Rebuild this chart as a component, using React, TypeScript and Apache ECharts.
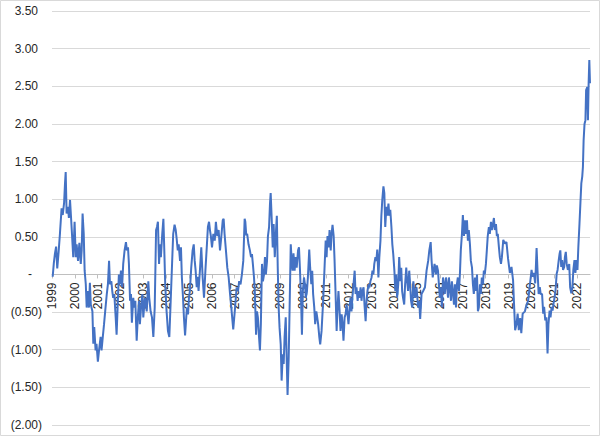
import React, { useEffect, useRef } from "react";
import * as echarts from "echarts";

// Sample dates (decimal years) and index values
const dates: number[] = [
  1999.03, 1999.08, 1999.13, 1999.18, 1999.23, 1999.29, 1999.35, 1999.42, 1999.47, 1999.53, 1999.57, 1999.60, 1999.64, 1999.70, 1999.74, 1999.79, 1999.83, 1999.88, 1999.93, 1999.99,
  2000.04, 2000.08, 2000.14, 2000.20, 2000.26, 2000.30, 2000.34, 2000.39, 2000.43, 2000.48, 2000.52, 2000.56, 2000.62, 2000.66, 2000.70, 2000.77, 2000.81, 2000.85, 2000.91, 2000.95,
  2001.01, 2001.06, 2001.13, 2001.17, 2001.21, 2001.28, 2001.33, 2001.40, 2001.45, 2001.50, 2001.54, 2001.60, 2001.64, 2001.68, 2001.73, 2001.79, 2001.83, 2001.89, 2001.93, 2001.98,
  2002.02, 2002.07, 2002.12, 2002.18, 2002.24, 2002.28, 2002.33, 2002.37, 2002.42, 2002.46, 2002.50, 2002.56, 2002.60, 2002.65, 2002.71, 2002.75, 2002.81, 2002.85, 2002.91, 2002.96,
  2003.00, 2003.07, 2003.15, 2003.22, 2003.26, 2003.32, 2003.38, 2003.44, 2003.50, 2003.56, 2003.60, 2003.64, 2003.69, 2003.73, 2003.77, 2003.83, 2003.88, 2003.92, 2003.96,
  2004.02, 2004.08, 2004.14, 2004.20, 2004.26, 2004.31, 2004.37, 2004.42, 2004.46, 2004.51, 2004.55, 2004.61, 2004.65, 2004.69, 2004.74, 2004.78, 2004.83, 2004.87, 2004.91, 2004.96,
  2005.00, 2005.04, 2005.10, 2005.16, 2005.21, 2005.25, 2005.29, 2005.34, 2005.38, 2005.42, 2005.48, 2005.54, 2005.60, 2005.66, 2005.72, 2005.78, 2005.83, 2005.88, 2005.92, 2005.96,
  2006.01, 2006.07, 2006.13, 2006.18, 2006.24, 2006.30, 2006.36, 2006.42, 2006.48, 2006.52, 2006.56, 2006.62, 2006.68, 2006.74, 2006.80, 2006.87, 2006.94,
  2007.02, 2007.09, 2007.15, 2007.20, 2007.26, 2007.32, 2007.38, 2007.44, 2007.47, 2007.51, 2007.55, 2007.61, 2007.67, 2007.72, 2007.76, 2007.80, 2007.85, 2007.89, 2007.94, 2007.98,
  2008.02, 2008.07, 2008.11, 2008.15, 2008.20, 2008.24, 2008.29, 2008.33, 2008.37, 2008.42, 2008.46, 2008.51, 2008.55, 2008.58, 2008.62, 2008.67, 2008.71, 2008.76, 2008.80, 2008.85, 2008.89, 2008.93, 2008.97,
  2009.02, 2009.06, 2009.11, 2009.15, 2009.19, 2009.24, 2009.28, 2009.32, 2009.37, 2009.41, 2009.46, 2009.50, 2009.54, 2009.58, 2009.63, 2009.67, 2009.72, 2009.78, 2009.82, 2009.86, 2009.91, 2009.95, 2009.99,
  2010.04, 2010.08, 2010.12, 2010.17, 2010.21, 2010.27, 2010.31, 2010.36, 2010.40, 2010.44, 2010.49, 2010.53, 2010.58, 2010.62, 2010.66, 2010.71, 2010.75, 2010.81, 2010.88, 2010.94, 2010.99,
  2011.03, 2011.07, 2011.12, 2011.16, 2011.21, 2011.25, 2011.29, 2011.34, 2011.38, 2011.42, 2011.47, 2011.51, 2011.55, 2011.60, 2011.64, 2011.69, 2011.73, 2011.77, 2011.82, 2011.86, 2011.91, 2011.95, 2011.99,
  2012.04, 2012.08, 2012.12, 2012.17, 2012.21, 2012.26, 2012.30, 2012.34, 2012.39, 2012.43, 2012.47, 2012.52, 2012.56, 2012.60, 2012.65, 2012.69, 2012.74, 2012.78, 2012.82, 2012.87, 2012.91, 2012.95,
  2013.00, 2013.04, 2013.08, 2013.12, 2013.17, 2013.21, 2013.25, 2013.30, 2013.34, 2013.39, 2013.43, 2013.47, 2013.52, 2013.56, 2013.60, 2013.65, 2013.69, 2013.74, 2013.78, 2013.82, 2013.87, 2013.91, 2013.95,
  2014.00, 2014.04, 2014.08, 2014.12, 2014.17, 2014.21, 2014.26, 2014.30, 2014.34, 2014.38, 2014.43, 2014.47, 2014.52, 2014.56, 2014.60, 2014.65, 2014.69, 2014.73, 2014.78, 2014.83, 2014.90, 2014.97,
  2015.04, 2015.09, 2015.13, 2015.19, 2015.26, 2015.34, 2015.41, 2015.48, 2015.53, 2015.59, 2015.63, 2015.68, 2015.72, 2015.76, 2015.82, 2015.86, 2015.91, 2015.95, 2015.99,
  2016.04, 2016.08, 2016.13, 2016.17, 2016.21, 2016.26, 2016.30, 2016.35, 2016.39, 2016.43, 2016.48, 2016.52, 2016.56, 2016.61, 2016.65, 2016.70, 2016.74, 2016.78, 2016.83, 2016.87, 2016.91, 2016.96,
  2017.00, 2017.05, 2017.09, 2017.13, 2017.18, 2017.22, 2017.26, 2017.31, 2017.35, 2017.40, 2017.44, 2017.48, 2017.53, 2017.57, 2017.62, 2017.66, 2017.70, 2017.75, 2017.79, 2017.83, 2017.88, 2017.92, 2017.96,
  2018.01, 2018.05, 2018.09, 2018.14, 2018.18, 2018.23, 2018.27, 2018.32, 2018.36, 2018.40, 2018.45, 2018.49, 2018.53, 2018.58, 2018.62, 2018.67, 2018.71, 2018.77, 2018.84, 2018.91, 2018.98,
  2019.06, 2019.13, 2019.20, 2019.24, 2019.29, 2019.35, 2019.40, 2019.45, 2019.51, 2019.56, 2019.62, 2019.72, 2019.79, 2019.86, 2019.94,
  2020.01, 2020.05, 2020.11, 2020.17, 2020.23, 2020.27, 2020.32, 2020.37, 2020.41, 2020.47, 2020.52, 2020.56, 2020.61, 2020.66, 2020.71, 2020.75, 2020.80, 2020.84, 2020.89, 2020.93, 2020.97,
  2021.02, 2021.06, 2021.11, 2021.15, 2021.20, 2021.24, 2021.27, 2021.31, 2021.35, 2021.39, 2021.44, 2021.47, 2021.51, 2021.55, 2021.60, 2021.66, 2021.70, 2021.75, 2021.80, 2021.84, 2021.89, 2021.93, 2021.98,
  2022.02, 2022.06, 2022.11, 2022.15, 2022.19, 2022.23, 2022.26, 2022.29, 2022.33, 2022.37, 2022.40, 2022.45, 2022.48, 2022.51, 2022.54, 2022.57,
];

const values: number[] = [
  -0.03, 0.15, 0.28, 0.37, 0.08, 0.30, 0.55, 0.88, 0.79, 0.95, 1.21, 1.36, 0.81, 0.90, 0.75, 0.99, 0.78, 0.51, 0.23, 0.70,
  0.23, 0.40, 0.18, 0.42, 0.14, 0.32, 0.81, 0.54, 0.05, -0.13, -0.44, -0.22, -0.44, -0.11, -0.40, -0.49, -0.92, -0.70, -1.01, -0.92,
  -1.16, -1.01, -0.83, -1.01, -0.88, -0.66, -0.49, -0.26, -0.13, 0.18, -0.13, -0.09, -0.22, -0.31, -0.26, -0.57, -0.80, -0.31, 0.00, -0.13,
  0.05, -0.17, 0.14, 0.32, 0.43, 0.32, 0.36, 0.14, -0.35, -0.26, -0.64, -0.31, -0.44, -0.35, -0.88, -0.62, -0.35, -0.66, -0.40, -0.26,
  -0.57, -0.31, -0.49, -0.09, -0.31, -0.49, -0.57, -0.83, -0.44, 0.59, 0.63, 0.70, 0.14, 0.40, 0.23, 0.54, 0.74, 0.32, -0.13,
  -0.49, -0.75, -0.83, -0.35, 0.14, 0.54, 0.66, 0.59, 0.48, 0.32, 0.40, 0.18, 0.36, -0.04, -0.31, -0.57, -0.81, -0.62, -0.44, -0.53,
  -0.31, -0.22, 0.09, 0.32, 0.40, 0.19, 0.06, -0.17, -0.03, -0.22, 0.05, 0.36, -0.04, -0.31, 0.05, 0.36, 0.63, 0.70, 0.59, 0.51,
  0.36, 0.54, 0.45, 0.70, 0.51, 0.59, 0.32, 0.51, 0.72, 0.74, 0.54, 0.32, 0.09, -0.04, -0.26, -0.49, -0.73,
  -0.44, -0.17, -0.22, -0.09, -0.13, 0.00, 0.18, 0.74, 0.70, 0.52, 0.54, 0.40, 0.32, 0.23, 0.27, 0.14, -0.04, -0.26, -0.80, -0.49,
  -0.57, -0.83, -1.01, -0.66, 0.14, -0.09, 0.00, 0.23, 0.00, 0.18, 0.51, 0.63, 0.94, 1.08, 0.78, 0.36, 0.67, 0.23, 0.50, 0.78, 0.09, -0.44, -0.71,
  -0.93, -1.41, -1.06, -1.19, -0.83, -0.57, -1.10, -1.60, -1.10, -0.44, 0.40, 0.18, 0.05, 0.28, 0.05, 0.23, 0.09, 0.32, 0.36, 0.09, -0.31, -0.80, -0.22,
  -0.04, -0.13, -0.31, -0.22, -0.04, 0.33, 0.09, -0.13, 0.05, -0.26, -0.44, -0.66, -0.49, -0.57, -0.66, -0.83, -0.93, -0.75, -0.35, 0.09, 0.45,
  0.23, 0.51, 0.36, 0.59, 0.32, 0.54, 0.66, 0.51, 0.18, -0.22, -0.75, -0.44, -0.22, -0.49, -0.75, -0.53, -0.66, -0.88, -0.57, -0.53, -0.40, -0.53, -0.66,
  -0.44, -0.31, -0.49, -0.26, -0.13, 0.05, -0.26, -0.17, -0.35, -0.22, -0.31, -0.17, -0.35, -0.22, -0.17, -0.40, -0.62, -0.35, -0.22, -0.13, -0.17, -0.09,
  -0.04, 0.05, 0.00, 0.14, 0.23, 0.18, 0.33, -0.04, 0.23, 0.45, 0.78, 0.99, 1.17, 1.08, 0.63, 0.90, 0.78, 0.94, 0.78, 0.86, 0.63, 0.40, 0.27,
  0.05, -0.22, 0.00, -0.31, -0.13, 0.23, -0.09, 0.09, -0.22, -0.31, -0.40, -0.13, 0.09, -0.09, -0.22, 0.05, -0.13, -0.35, -0.44, -0.09, -0.31, -0.17,
  -0.44, -0.35, -0.59, -0.26, -0.22, -0.17, 0.05, 0.18, 0.32, 0.43, 0.18, -0.04, 0.05, 0.14, 0.00, 0.12, 0.05, -0.13, -0.31,
  -0.17, -0.44, -0.04, -0.13, -0.26, -0.04, -0.13, -0.31, -0.04, -0.17, -0.35, -0.09, -0.22, -0.40, -0.13, -0.44, -0.13, -0.04, -0.22, 0.00, 0.32, 0.54,
  0.79, 0.51, 0.72, 0.54, 0.72, 0.45, 0.59, 0.40, 0.18, 0.09, -0.13, -0.26, -0.04, -0.22, 0.00, -0.49, -0.44, -0.13, -0.26, -0.04, -0.13, 0.05, 0.00,
  0.14, 0.32, 0.51, 0.63, 0.54, 0.70, 0.59, 0.67, 0.75, 0.59, 0.67, 0.51, 0.54, 0.36, 0.23, 0.14, 0.23, 0.46, 0.41, 0.43, 0.21,
  0.02, 0.10, -0.08, -0.38, -0.74, -0.66, -0.52, -0.74, -0.58, -0.78, -0.52, -0.49, -0.40, -0.35, -0.13,
  0.06, -0.03, 0.02, -0.12, 0.35, 0.06, -0.26, -0.17, -0.26, -0.26, -0.52, -0.43, -0.61, -0.57, -1.05, -0.66, -0.48, -0.57, -0.43, -0.48, -0.39,
  -0.30, -0.21, 0.01, 0.06, 0.19, 0.28, 0.32, 0.10, 0.19, 0.06, 0.10, 0.23, 0.30, 0.14, 0.06, 0.14, -0.17, -0.25, -0.17, 0.06, 0.19, 0.02, 0.19,
  0.06, 0.37, 0.68, 0.95, 1.21, 1.30, 1.43, 1.78, 2.00, 2.05, 2.45, 2.49, 2.05, 2.54, 2.85, 2.54,
];

const xMin = 1999;
const xMax = 2022.57;
const yMin = -2;
const yMax = 3.5;
const yStep = 0.5;

const GRID_TOP = 11;
const GRID_BOTTOM = 11;
const CHART_H = 436;

function fmtY(v: number): string {
  if (Math.abs(v) < 1e-9) return "{z|-}";
  if (v < 0) return "{n|(" + Math.abs(v).toFixed(2) + ")}";
  return "{p|" + v.toFixed(2) + "}";
}

export default function App() {
  const ref = useRef<HTMLDivElement>(null);
  useEffect(() => {
    if (!ref.current) return;
    const chart = echarts.init(ref.current, null, { renderer: "svg" });
    const font = "Liberation Sans, Arial, sans-serif";
    const textColor = "#262626";
    // place the category axis on the zero line (distance of zero from the bottom edge of the grid)
    const gridH = CHART_H - GRID_TOP - GRID_BOTTOM;
    const zeroOffset = -(gridH * (0 - yMin)) / (yMax - yMin);
    chart.setOption({
      animation: false,
      backgroundColor: "#ffffff",
      textStyle: { fontFamily: font },
      graphic: [
        {
          type: "rect",
          shape: { x: 0.5, y: 0.5, width: 599, height: 435 },
          style: { fill: "none", stroke: "#d9d9d9", lineWidth: 1 },
          silent: true,
          z: 100,
        },
      ],
      grid: {
        left: 52,
        right: 10,
        top: GRID_TOP,
        bottom: GRID_BOTTOM,
        containLabel: false,
        outerBoundsMode: "none",
      },
      xAxis: {
        type: "value",
        min: xMin,
        max: xMax,
        interval: 1,
        position: "bottom",
        offset: zeroOffset,
        axisLine: { onZero: false, lineStyle: { color: "#bfbfbf", width: 1 } },
        axisTick: { show: true, length: 4, lineStyle: { color: "#bfbfbf" } },
        splitLine: { show: false },
        axisLabel: {
          rotate: 90,
          margin: 8,
          fontSize: 12,
          fontFamily: font,
          color: textColor,
          showMaxLabel: false,
          formatter: (v: number) => (Math.abs(v - Math.round(v)) < 1e-6 ? String(Math.round(v)) : ""),
        },
      },
      yAxis: {
        type: "value",
        min: yMin,
        max: yMax,
        interval: yStep,
        axisLine: { show: false },
        axisTick: { show: false },
        splitLine: { lineStyle: { color: "#d9d9d9", width: 1 } },
        axisLabel: {
          margin: 10,
          fontSize: 12,
          fontFamily: font,
          color: textColor,
          formatter: fmtY,
          rich: {
            p: { fontSize: 12, fontFamily: font, color: textColor, padding: [0, 4, 0, 0] },
            n: { fontSize: 12, fontFamily: font, color: textColor },
            z: { fontSize: 12, fontFamily: font, color: textColor, padding: [0, 10, 0, 0] },
          },
        },
      },
      series: [
        {
          type: "line",
          data: dates.map((d, i) => [d, values[i]]),
          showSymbol: false,
          symbol: "none",
          lineStyle: { color: "#4472C4", width: 2 },
          itemStyle: { color: "#4472C4" },
          z: 3,
        },
      ],
    });
    return () => chart.dispose();
  }, []);
  return (
    <div
      ref={ref}
      style={{ position: "absolute", left: 0, top: 0, width: 600, height: 436 }}
    />
  );
}
